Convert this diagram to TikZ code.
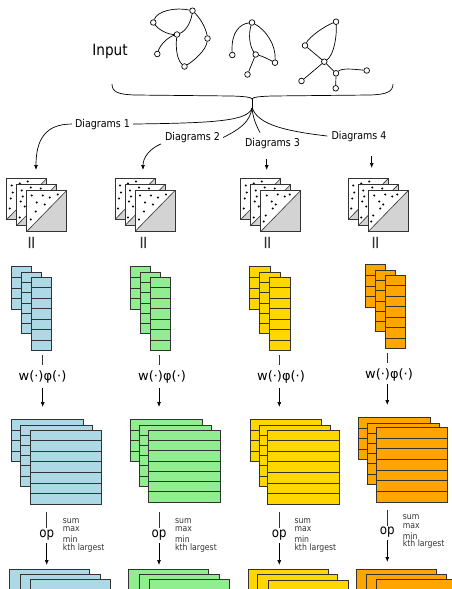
\documentclass[tikz,border=0pt]{standalone}
\usepackage{fontspec}
\setmainfont{DejaVu Sans}[FakeStretch=0.88]
\newfontfamily\widefont{DejaVu Sans}
\usetikzlibrary{arrows.meta,calc}
\definecolor{edgecol}{HTML}{333333}
\definecolor{vblue}{HTML}{ADD8E6}
\definecolor{vgreen}{HTML}{90EE90}
\definecolor{vgold}{HTML}{FFD700}
\definecolor{vorange}{HTML}{FFA500}
\definecolor{pdgray}{HTML}{D3D3D3}
% x, y, width, rows, row height, colour
\newcommand{\cellrect}[6]{%
  \filldraw[fill=#6,draw=edgecol,line width=0.8pt] (#1,#2) rectangle ++(#3,#4*#5);
  \pgfmathtruncatemacro{\lastk}{#4-1}%
  \foreach \k in {1,...,\lastk}{\draw[line width=0.7pt,draw=edgecol] (#1,#2+\k*#5) -- ++(#3,0);}%
}
% x, y, dots (macro holding the list)
\newcommand{\pdsquare}[3]{%
  \fill[white] (#1,#2) rectangle ++(40,41);
  \fill[pdgray] (#1,#2+41) -- ++(40,0) -- ++(0,-41) -- cycle;
  \draw[edgecol,line width=0.9pt] (#1,#2) rectangle ++(40,41);
  \draw[edgecol,line width=0.6pt] (#1,#2+41) -- ++(40,-41);
  \foreach \dx/\dy in #3 {\fill[black] ($(#1,#2)+(\dx,\dy)$) circle (1.1pt);}
}
\newcommand{\barrect}[3]{%
  \filldraw[fill=#3,draw=edgecol,line width=0.8pt] (#1,#2) rectangle ++(80,20);
}
\newcommand{\dotsback}{5/7,13/5,21/3,4/20,6/14,3/30}
\newcommand{\dotsmid}{5/6,14/3,24/4,4/17,8/22,3/33,6/12}
\newcommand{\dotsfrontA}{5/5,16/5,23/7,31/4,10/12,18/14,9/21,4/29}
\newcommand{\dotsfrontB}{6/5,17/4,24/6,29/4,11/11,15/14,12/18,5/25,3/31}
\begin{document}
\begin{tikzpicture}[x=1pt,y=-1pt,
  gv/.style={circle,draw,fill=white,inner sep=0pt,minimum size=5.6pt,line width=0.7pt},
  ge/.style={line width=0.7pt},
  lbl/.style={font=\fontsize{10.8}{12}\selectfont,inner sep=0pt,anchor=base},
  arr/.style={line width=0.7pt,-{Latex[length=5pt,width=4pt]}},
  conn/.style={line width=0.7pt,draw=edgecol},
  eqs/.style={rotate=90,font=\widefont\fontsize{18}{18}\selectfont,text=edgecol,inner sep=0pt},
  wphi/.style={font=\widefont\fontsize{13}{15}\selectfont,inner sep=0pt},
  opl/.style={font=\fontsize{13.5}{15}\selectfont,inner sep=0pt},
  side/.style={font=\fontsize{8.8}{9}\selectfont,inner sep=0pt,anchor=west,text=edgecol}]
\path[use as bounding box] (0,0) rectangle (452,589);
\clip (0,0) rectangle (452,589);
\fill[white] (0,0) rectangle (452,589);

% ---------- Input ----------
\node[font=\fontsize{15.5}{18}\selectfont,inner sep=0pt,anchor=base] (input) at (110,55) {Input};

% graph 1
\node[gv] (a) at (153.3,22.5) {};
\node[gv] (b) at (192.5,10.7) {};
\node[gv] (c) at (177,34.5) {};
\node[gv] (d) at (207.5,38.5) {};
\node[gv] (e) at (157.3,54) {};
\node[gv] (f) at (184.5,66.5) {};
\draw[ge] (a) .. controls (157,11) and (175,7) .. (b);
\draw[ge] (a) .. controls (159,30) and (168,34.5) .. (c);
\draw[ge] (b) .. controls (191,22) and (186,31) .. (c);
\draw[ge] (b) .. controls (200,18) and (206,28) .. (d);
\draw[ge] (c) .. controls (168,37) and (160,45) .. (e);
\draw[ge] (c) .. controls (175.5,48) and (177,60) .. (f);
\draw[ge] (d) .. controls (206,50) and (195,60) .. (f);

% graph 2
\node[gv] (g) at (252,22.5) {};
\node[gv] (h) at (232.3,55) {};
\node[gv] (i) at (255.7,54.5) {};
\node[gv] (j) at (275,62.7) {};
\node[gv] (k) at (247.5,74.5) {};
\draw[ge] (g) .. controls (240,24) and (231,32) .. (h);
\draw[ge] (g) .. controls (248,35) and (250,47) .. (i);
\draw[ge] (g) .. controls (266,30) and (276,45) .. (j);
\draw[ge] (i) .. controls (262,56) and (268,59) .. (j);
\draw[ge] (i) -- (k);

% graph 3
\node[gv] (l) at (336,21.7) {};
\node[gv] (m) at (305,45.5) {};
\node[gv] (n) at (324.3,61.7) {};
\node[gv] (o) at (336,73.3) {};
\node[gv] (p) at (366.7,70.5) {};
\node[gv] (q) at (301.5,81) {};
\node[gv] (r) at (335.7,88.3) {};
\draw[ge] (l) .. controls (325,26) and (310,36) .. (m);
\draw[ge] (l) .. controls (337,36) and (334,55) .. (n);
\draw[ge] (m) -- (n);
\draw[ge] (n) -- (q);
\draw[ge] (n) -- (o);
\draw[ge] (o) .. controls (342,68) and (352,69) .. (p);
\draw[ge] (o) -- (r);

% ---------- brace ----------
\coordinate (bl) at (112,84);
\coordinate (br) at (393,84);
\coordinate (tip) at (252,99);
\coordinate (stem) at (252,108);
\draw[ge] (bl) .. controls (112,92) and (118,94.5) .. (135,95) -- (232,96)
  .. controls (245,96.5) and (251,97) .. (tip)
  .. controls (253,97) and (259,96.5) .. (272,96) -- (370,95)
  .. controls (386,94.5) and (393,92) .. (br);
\draw[ge] (tip) -- (stem);

% labels
\node[lbl] (d1) at (102.5,127) {Diagrams 1};
\node[lbl] (d2) at (192.5,140.5) {Diagrams 2};
\node[lbl] (d3) at (272.5,146) {Diagrams 3};
\node[lbl] (d4) at (359,139) {Diagrams 4};
\draw[ge] ([xshift=3pt]d1.east) .. controls (215,123) and (248,121) .. (stem);
\draw[ge] ([xshift=3pt]d2.east) .. controls (240,129) and (250,122) .. (stem);
\draw[ge] (stem) .. controls (253,118) and (256,125) .. (260,132.5);
\draw[ge] (stem) .. controls (258,122) and (275,130) .. ([xshift=-4pt]d4.west);

% arrows to diagrams
\coordinate (pd1) at (36,170);
\coordinate (pd2) at (143,170);
\coordinate (a3s) at (266.7,159);
\coordinate (pd3) at (266.7,170);
\coordinate (a4s) at (371.7,156);
\coordinate (pd4) at (371.7,168);
\draw[arr] ([xshift=-3pt]d1.west) .. controls (45,124) and (36,140) .. (pd1);
\draw[arr] ([xshift=-4pt,yshift=-1pt]d2.south west) .. controls (149,149) and (143,158) .. (pd2);
\draw[arr] (a3s) -- (pd3);
\draw[arr] (a4s) -- (pd4);

% ---------- persistence diagrams ----------
\pdsquare{6.7}{178.5}{\dotsback}
\pdsquare{16.7}{184.5}{\dotsmid}
\pdsquare{26.7}{190.5}{\dotsfrontA}
\pdsquare{115}{178.5}{\dotsback}
\pdsquare{125}{184.5}{\dotsmid}
\pdsquare{135}{190.5}{\dotsfrontA}
\pdsquare{240.7}{178.5}{\dotsback}
\pdsquare{250.7}{184.5}{\dotsmid}
\pdsquare{260.7}{190.5}{\dotsfrontB}
\pdsquare{348.3}{178.5}{\dotsback}
\pdsquare{358.3}{184.5}{\dotsmid}
\pdsquare{368.3}{190.5}{\dotsfrontB}

\node[eqs] (eq1) at (33,242.5) {=};
\node[eqs] (eq2) at (145.7,242.5) {=};
\node[eqs] (eq3) at (269.3,242.5) {=};
\node[eqs] (eq4) at (377.3,242.5) {=};

% ---------- vectors ----------
\cellrect{11}{266.7}{20.7}{4}{10.6}{vblue}
\cellrect{21}{272.3}{20.7}{6}{10.2}{vblue}
\cellrect{31}{277.3}{20.7}{7}{10.5}{vblue}
\cellrect{130}{266.7}{20.7}{4}{10.6}{vgreen}
\cellrect{140}{272.3}{20.7}{6}{10.2}{vgreen}
\cellrect{150}{277.3}{20.7}{7}{10.5}{vgreen}
\cellrect{249.3}{266.7}{20.7}{4}{10.6}{vgold}
\cellrect{259.3}{272.3}{20.7}{6}{10.2}{vgold}
\cellrect{269.3}{277.3}{20.7}{7}{10.5}{vgold}
\cellrect{365}{264.7}{20.7}{4}{10.6}{vorange}
\cellrect{375}{270.3}{20.7}{6}{10.2}{vorange}
\cellrect{385}{275}{20.7}{7}{10.5}{vorange}

% w phi labels
\node[wphi] (w1) at (42.5,377) {w(·)φ(·)};
\node[wphi] (w2) at (162,377) {w(·)φ(·)};
\node[wphi] (w3) at (281,377) {w(·)φ(·)};
\node[wphi] (w4) at (389,374.5) {w(·)φ(·)};
\coordinate (v1) at (42.7,355); \coordinate (v1e) at (42.7,365);
\coordinate (v2) at (159,355); \coordinate (v2e) at (159,365);
\coordinate (v3) at (279.3,355); \coordinate (v3e) at (279.3,365);
\coordinate (v4) at (387.3,353); \coordinate (v4e) at (387.3,363);
\draw[conn] (v1) -- (v1e);
\draw[conn] (v2) -- (v2e);
\draw[conn] (v3) -- (v3e);
\draw[conn] (v4) -- (v4e);
\coordinate (m1s) at (42.7,388); \coordinate (m1) at (42.7,407);
\coordinate (m2s) at (159,388); \coordinate (m2) at (159,407);
\coordinate (m3s) at (279.3,388); \coordinate (m3) at (279.3,407);
\coordinate (m4s) at (387.3,384); \coordinate (m4) at (387.3,405);
\draw[arr] (m1s) -- (m1);
\draw[arr] (m2s) -- (m2);
\draw[arr] (m3s) -- (m3);
\draw[arr] (m4s) -- (m4);

% ---------- matrices ----------
\cellrect{11.7}{419.3}{71.5}{4}{10.6}{vblue}
\cellrect{20.7}{425}{71.5}{6}{10.2}{vblue}
\cellrect{30}{430}{71.5}{7}{10.6}{vblue}
\cellrect{130.3}{419.3}{72}{4}{10.6}{vgreen}
\cellrect{139.3}{425}{72}{6}{10.2}{vgreen}
\cellrect{148.3}{430}{72}{7}{10.3}{vgreen}
\cellrect{250}{419.3}{71.5}{4}{10.6}{vgold}
\cellrect{259}{425}{71.5}{6}{10.2}{vgold}
\cellrect{267.7}{430}{71.5}{7}{10.6}{vgold}
\cellrect{358.3}{417.3}{71.7}{4}{10.6}{vorange}
\cellrect{367.3}{423}{71.7}{6}{10.2}{vorange}
\cellrect{376}{427.3}{71.7}{7}{10.7}{vorange}

% op labels
\node[opl] (op1) at (46.7,535) {op};
\node[opl] (op2) at (159,535) {op};
\node[opl] (op3) at (279.3,535) {op};
\node[opl] (op4) at (387.3,531.7) {op};
\coordinate (o1a) at (46.7,511.7); \coordinate (o1b) at (46.7,528.3);
\coordinate (o2a) at (159,511.7); \coordinate (o2b) at (159,528.3);
\coordinate (o3a) at (279.3,511.7); \coordinate (o3b) at (279.3,528.3);
\coordinate (o4a) at (387.3,510); \coordinate (o4b) at (387.3,525.5);
\draw[conn] (o1a) -- (o1b);
\draw[conn] (o2a) -- (o2b);
\draw[conn] (o3a) -- (o3b);
\draw[conn] (o4a) -- (o4b);
\coordinate (p1s) at (46.7,543); \coordinate (p1) at (46.7,565);
\coordinate (p2s) at (159,543); \coordinate (p2) at (159,565);
\coordinate (p3s) at (279.3,543); \coordinate (p3) at (279.3,565);
\coordinate (p4s) at (387.3,540); \coordinate (p4) at (387.3,562);
\draw[arr] (p1s) -- (p1);
\draw[arr] (p2s) -- (p2);
\draw[arr] (p3s) -- (p3);
\draw[arr] (p4s) -- (p4);

% side labels
\foreach \sx/\sy/\nm in {62.7/0/1, 175/0/2, 294.3/0/3, 402.7/-3.5/4}{
  \node[side] (s\nm a) at (\sx,521+\sy) {sum};
  \node[side] (s\nm b) at (\sx,529.4+\sy) {max};
  \node[side] (s\nm c) at (\sx,539.2+\sy) {min};
  \node[side] (s\nm d) at (\sx,547.6+\sy) {kth largest};
}

% ---------- bottom bars ----------
\barrect{9.3}{569.3}{vblue}
\barrect{20}{574}{vblue}
\barrect{30}{579.3}{vblue}
\barrect{128.3}{569.3}{vgreen}
\barrect{139}{574}{vgreen}
\barrect{149}{579.3}{vgreen}
\barrect{248.3}{569.3}{vgold}
\barrect{257.7}{574.3}{vgold}
\barrect{268.3}{580}{vgold}
\barrect{356}{569}{vorange}
\barrect{366.7}{574}{vorange}
\barrect{376.7}{579.3}{vorange}
\end{tikzpicture}
\end{document}
